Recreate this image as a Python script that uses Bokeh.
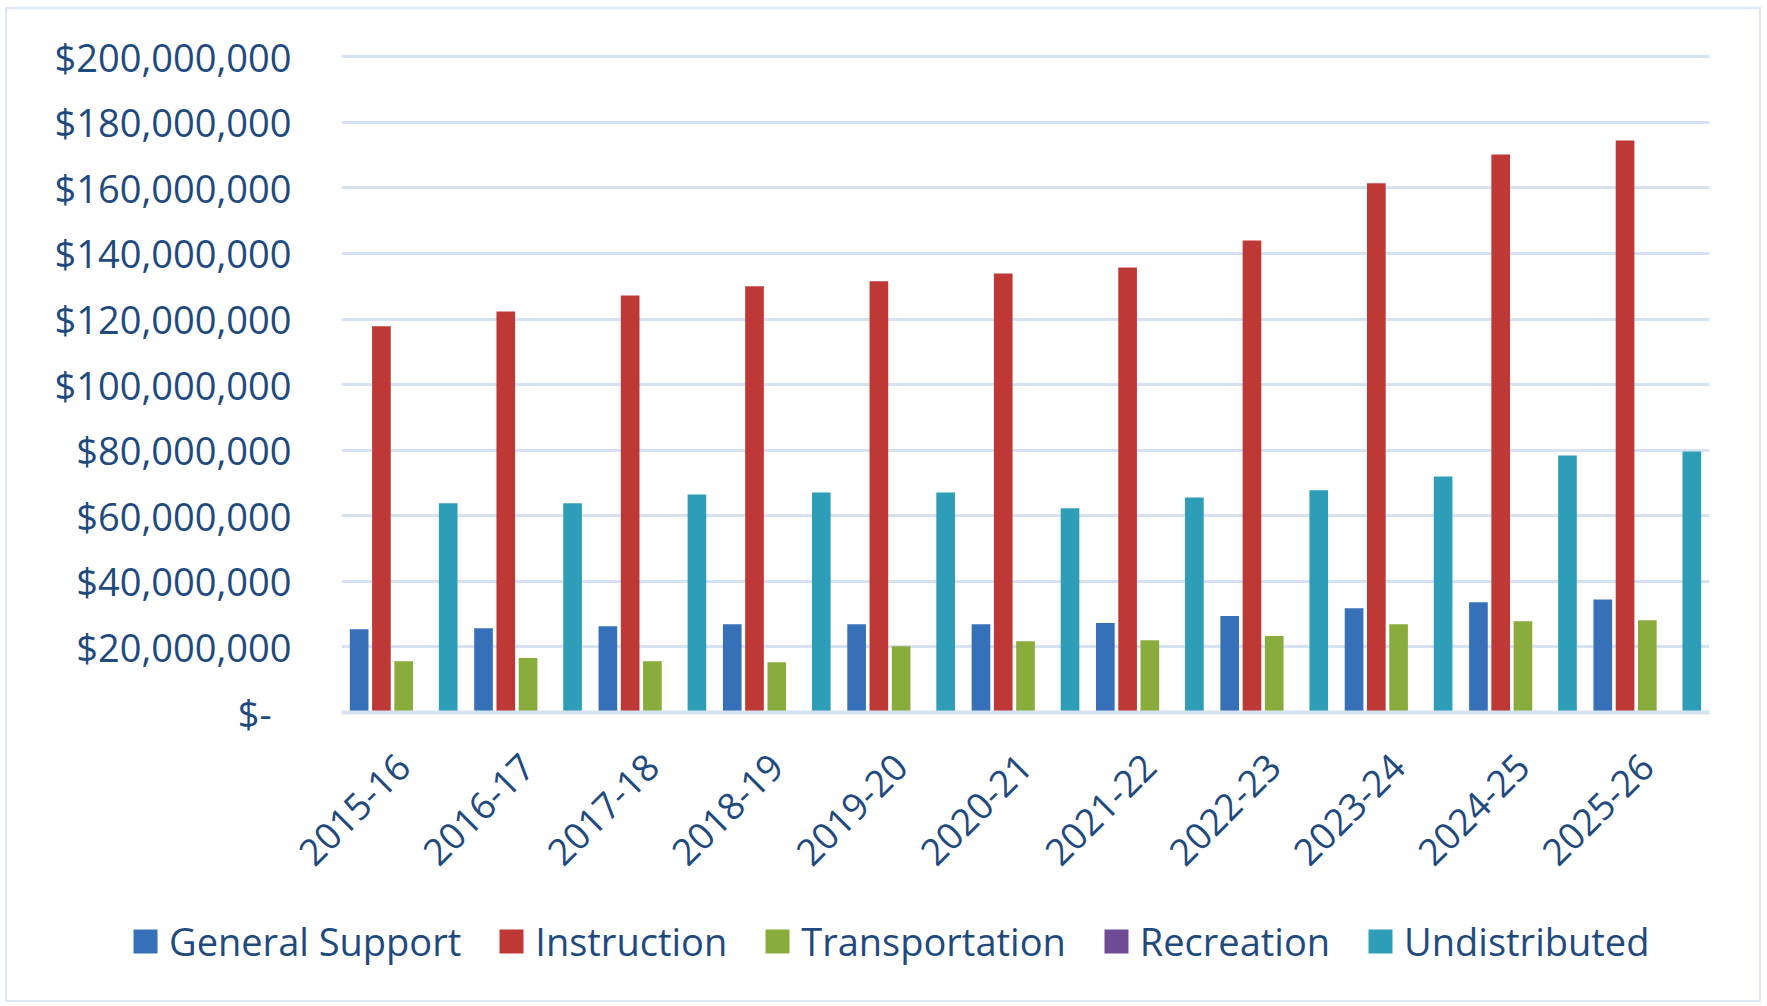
import math
from bokeh.plotting import figure
from bokeh.models import (FactorRange, FixedTicker, CustomJSTickFormatter,
                          Legend, LegendItem, ColumnDataSource)
from bokeh.transform import dodge
from bokeh.embed import file_html
from bokeh.resources import INLINE

years = ["2015-16", "2016-17", "2017-18", "2018-19", "2019-20", "2020-21",
         "2021-22", "2022-23", "2023-24", "2024-25", "2025-26"]

general_support = [25_400_000, 25_700_000, 26_300_000, 26_900_000, 26_900_000, 26_900_000,
                   27_300_000, 29_400_000, 31_800_000, 33_600_000, 34_500_000]
instruction = [117_800_000, 122_300_000, 127_200_000, 130_000_000, 131_500_000, 133_900_000,
               135_700_000, 144_000_000, 161_400_000, 170_200_000, 174_500_000]
transportation = [15_600_000, 16_600_000, 15_600_000, 15_300_000, 20_200_000, 21_700_000,
                  22_000_000, 23_300_000, 26_900_000, 27_800_000, 28_100_000]
recreation = [0, 0, 0, 0, 0, 0, 0, 0, 0, 0, 0]
undistributed = [63_800_000, 63_800_000, 66_500_000, 67_100_000, 67_100_000, 62_300_000,
                 65_600_000, 67_800_000, 72_000_000, 78_400_000, 79_600_000]

series_names = ["General Support", "Instruction", "Transportation", "Recreation", "Undistributed"]
y_ticks = [0, 20_000_000, 40_000_000, 60_000_000, 80_000_000, 100_000_000,
           120_000_000, 140_000_000, 160_000_000, 180_000_000, 200_000_000]

colors = ["#3670B8", "#BE3835", "#8AAC3C", "#6F4B95", "#2E9DB8"]
FONT = "Open Sans"
TEXT_COLOR = "#1F4A7E"
GRID_COLOR = "#D6E2F2"
BORDER = "2px solid #DCE6F4"

source = ColumnDataSource(dict(
    year=years,
    gs=general_support,
    inst=instruction,
    trans=transportation,
    rec=recreation,
    und=undistributed,
))

# ---- main chart ----
p = figure(x_range=FactorRange(*years), y_range=(0, 201_000_000),
           width=1756, height=871, output_backend="svg", toolbar_location=None,
           min_border_left=334, min_border_right=54, min_border_top=44,
           min_border_bottom=168)

cols = ["gs", "inst", "trans", "rec", "und"]
offsets = [-0.358, -0.179, 0.0, 0.179, 0.358]
for col, off, c in zip(cols, offsets, colors):
    p.vbar(x=dodge("year", off, range=p.x_range), top=col, width=0.15,
           source=source, fill_color=c, line_color=None)

p.outline_line_color = None
p.background_fill_color = "white"
p.border_fill_color = "white"

p.xgrid.grid_line_color = None
p.ygrid.grid_line_color = GRID_COLOR
p.ygrid.grid_line_width = 3
p.ygrid.ticker = FixedTicker(ticks=y_ticks)

p.yaxis.ticker = FixedTicker(ticks=y_ticks)
p.yaxis.formatter = CustomJSTickFormatter(code="""
    if (tick == 0) { return "$-\u00a0\u00a0"; }
    return "$" + Math.round(tick).toString().replace(/\\B(?=(\\d{3})+(?!\\d))/g, ",");
""")
p.yaxis.axis_line_color = None
p.yaxis.major_tick_line_color = None
p.yaxis.minor_tick_line_color = None
p.yaxis.major_label_standoff = 44
p.yaxis.major_label_text_font = FONT
p.yaxis.major_label_text_font_size = "38px"
p.yaxis.major_label_text_color = TEXT_COLOR

p.xaxis.axis_line_color = GRID_COLOR
p.xaxis.axis_line_width = 4
p.xaxis.major_tick_line_color = None
p.xaxis.minor_tick_line_color = None
p.xaxis.major_label_orientation = math.pi / 4
p.xaxis.major_label_standoff = 42
p.xaxis.major_label_text_font = FONT
p.xaxis.major_label_text_font_size = "37px"
p.xaxis.major_label_text_color = TEXT_COLOR

p.styles = {"border-top": BORDER, "border-left": BORDER, "border-right": BORDER,
            "margin-left": "5px", "margin-top": "7px"}

# ---- legend strip (legend keys only; the key renderers hold no drawable point) ----
lg = figure(width=1756, height=124, output_backend="svg", toolbar_location=None,
            x_range=(0, 1), y_range=(0, 1), min_border=0)
lg.axis.visible = False
lg.grid.visible = False
lg.outline_line_color = None
lg.background_fill_color = "white"
lg.border_fill_color = "white"

items = []
for name, c in zip(series_names, colors):
    r = lg.vbar(x=[float("nan")], top=[float("nan")], width=0.1,
                fill_color=c, line_color=None)
    items.append(LegendItem(label=name, renderers=[r]))

legend = Legend(items=items, orientation="horizontal", location=(123, 35),
                glyph_width=30, glyph_height=30, label_standoff=9, spacing=35,
                padding=0, margin=0, border_line_color=None,
                background_fill_alpha=0,
                label_text_font=FONT, label_text_font_size="38px",
                label_text_color=TEXT_COLOR)
lg.add_layout(legend, "center")

lg.styles = {"border-bottom": BORDER, "border-left": BORDER, "border-right": BORDER,
             "margin-left": "5px"}

open("out.html", "w").write(file_html([p, lg], INLINE))
